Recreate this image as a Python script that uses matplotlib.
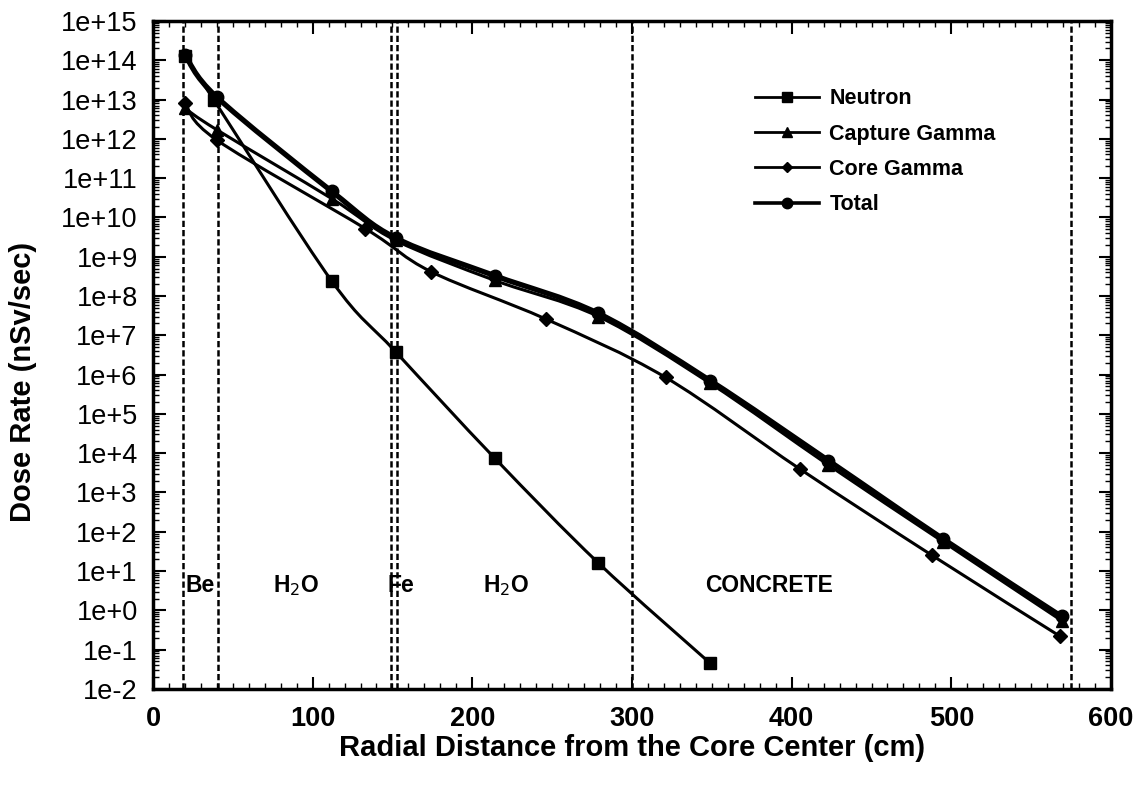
import numpy as np
import matplotlib
matplotlib.use("Agg")
import matplotlib.pyplot as plt
from matplotlib.path import Path
from matplotlib.patches import PathPatch
from matplotlib.lines import Line2D
from matplotlib.ticker import LogLocator, FixedLocator, MultipleLocator, NullFormatter

plt.rcParams['font.family'] = ['Liberation Sans', 'DejaVu Sans']

# ---- data ----
neutron_x = [20, 38, 112, 152, 214, 279, 349]
neutron_y = [1.3e14, 1.0e13, 2.4e8, 3.8e6, 7.5e3, 1.6e1, 4.5e-2]

capture_x = [20, 40, 112, 152, 214, 279, 349, 423, 495, 569]
capture_y = [6.0e12, 1.7e12, 3.0e10, 2.6e9, 2.5e8, 3.0e7, 6.0e5, 5.0e3, 5.5e1, 5.5e-1]

core_x = [20, 40, 133, 174, 246, 321, 405, 488, 568]
core_y = [8.0e12, 9.3e11, 5.2e9, 4.2e8, 2.6e7, 8.5e5, 4.0e3, 2.5e1, 2.2e-1]

total_x = [20, 40, 112, 152, 214, 279, 349, 423, 495, 569]
total_y = [1.4e14, 1.15e13, 4.6e10, 3.0e9, 3.3e8, 3.6e7, 7.0e5, 6.5e3, 6.5e1, 7.0e-1]

boundaries = [19, 41, 149, 153, 300, 575]
region_labels = ["Be", "H$_2$O", "Fe", "H$_2$O", "CONCRETE"]
region_x = [20.5, 75, 147, 207, 346]

ytick_vals = [10.0 ** e for e in range(-2, 16)]
ytick_labels = [("1e+%d" % e) if e >= 0 else ("1e%d" % e) for e in range(-2, 16)]
xtick_vals = [0, 100, 200, 300, 400, 500, 600]


def smooth_path(xs, ys):
    lx = np.array(xs, float)
    ly = np.log10(np.array(ys, float))
    n = len(lx)
    verts = [(lx[0], ly[0])]
    codes = [Path.MOVETO]
    for i in range(n - 1):
        p0 = np.array([lx[max(i - 1, 0)], ly[max(i - 1, 0)]])
        p1 = np.array([lx[i], ly[i]])
        p2 = np.array([lx[i + 1], ly[i + 1]])
        p3 = np.array([lx[min(i + 2, n - 1)], ly[min(i + 2, n - 1)]])
        c1 = p1 + (p2 - p0) / 6.0
        c2 = p2 - (p3 - p1) / 6.0
        verts += [tuple(c1), tuple(c2), tuple(p2)]
        codes += [Path.CURVE4] * 3
    verts = [(vx, 10.0 ** vy) for vx, vy in verts]
    return Path(verts, codes)


fig = plt.figure(figsize=(11.38, 7.91), dpi=100)
ax = fig.add_axes([0.1344, 0.129, 0.8419, 0.8445])
ax.set_yscale('log')
ax.set_xlim(0, 600)
ax.set_ylim(1e-2, 1e15)

series = [
    (neutron_x, neutron_y, 's', 8, 2.2, "Neutron"),
    (capture_x, capture_y, '^', 8, 2.2, "Capture Gamma"),
    (core_x, core_y, 'D', 7, 2.2, "Core Gamma"),
    (total_x, total_y, 'o', 9, 3.8, "Total"),
]

for xs, ys, mk, ms, lw, lab in series:
    ax.add_patch(PathPatch(smooth_path(xs, ys), fill=False, edgecolor='black',
                           lw=lw, zorder=3, capstyle='round', joinstyle='round'))
    ax.plot(xs, ys, ls='none', marker=mk, ms=ms, color='black', zorder=4)

for b in boundaries:
    ax.axvline(b, color='black', lw=1.8, ls=(0, (2.5, 1.2)), zorder=2)

for lab, xx in zip(region_labels, region_x):
    ax.text(xx, 4.4, lab, fontsize=16.5, fontweight='bold', ha='left', va='center', zorder=5)

ax.yaxis.set_major_locator(FixedLocator(ytick_vals))
ax.set_yticklabels(ytick_labels)
ax.yaxis.set_minor_locator(LogLocator(base=10, subs=np.arange(2, 10), numticks=40))
ax.yaxis.set_minor_formatter(NullFormatter())
ax.xaxis.set_major_locator(FixedLocator(xtick_vals))
ax.xaxis.set_minor_locator(MultipleLocator(10))

ax.tick_params(which='both', direction='in', top=True, right=True, color='black')
ax.tick_params(which='major', length=9, width=1.5)
ax.tick_params(which='minor', length=4, width=1.0)
ax.tick_params(axis='y', which='major', labelsize=19.5, pad=11)
ax.tick_params(axis='x', which='major', labelsize=19.5, pad=12)
for lbl in ax.get_xticklabels():
    lbl.set_fontweight('bold')
for sp in ax.spines.values():
    sp.set_linewidth(2.5)

ax.set_xlabel("Radial Distance from the Core Center (cm)", fontsize=21,
              fontweight='bold', labelpad=2)
ax.set_ylabel("Dose Rate (nSv/sec)", fontsize=21, fontweight='bold', labelpad=17)
ax.yaxis.label.set_y(0.46)

handles = [Line2D([0], [0], color='black', lw=2.0 if lab != "Total" else 2.6,
                  marker=mk, ms=ms - 1.5, label=lab)
           for xs, ys, mk, ms, lw, lab in series]
leg = ax.legend(handles=handles, loc='upper left', bbox_to_anchor=(0.628, 0.899),
                frameon=False, fontsize=15.5, handlelength=3.0, labelspacing=0.66,
                handletextpad=0.47, borderpad=0, borderaxespad=0)
for t in leg.get_texts():
    t.set_fontweight('bold')

fig.savefig("out.png", dpi=100)
